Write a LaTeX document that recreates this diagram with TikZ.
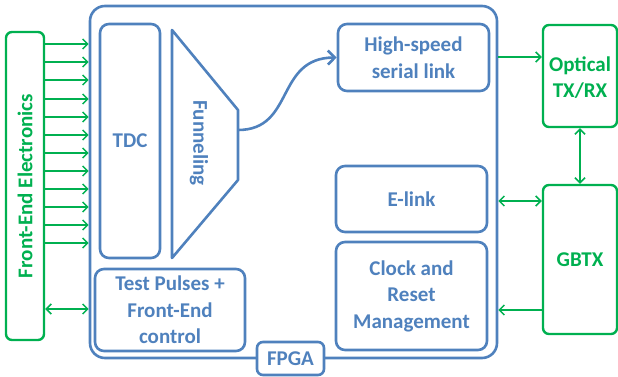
\documentclass[tikz,border=0pt]{standalone}
\usepackage{fontspec}
\setmainfont{Carlito}
\usetikzlibrary{arrows.meta}
\definecolor{bl}{HTML}{4F81BD}
\definecolor{gr}{HTML}{00B050}
\begin{document}
\begin{tikzpicture}[x=1pt,y=-1pt,
  bbox/.style={draw=bl,line width=2.6pt,rounded corners=9pt,text=bl,font=\fontsize{21}{26.5}\selectfont\bfseries,align=center,inner sep=0pt},
  gbox/.style={draw=gr,line width=2.4pt,rounded corners=6pt,text=gr,font=\fontsize{21}{26}\selectfont\bfseries,align=center,inner sep=0pt},
  garr/.style={draw=gr,line width=1.5pt,-{Straight Barb[length=5pt,width=10pt]}},
  gdarr/.style={draw=gr,line width=1.5pt,{Straight Barb[length=5pt,width=10pt]}-{Straight Barb[length=5pt,width=10pt]}}]
\useasboundingbox (0,0) rectangle (618,377);
% FPGA outer
\node[bbox,rounded corners=15pt,minimum width=407pt,minimum height=352pt] (fpga) at (293.5,182) {};
% Front-end electronics
\node[gbox,minimum width=38pt,minimum height=308pt] (fe) at (25,186) {};
\node[text=gr,font=\fontsize{21}{26}\selectfont\bfseries,rotate=90] (fetxt) at (fe.center) {Front-End Electronics};
% TDC
\node[bbox,minimum width=60pt,minimum height=234pt] (tdc) at (130,141) {TDC};
% Funnel
\draw[draw=bl,line width=2.6pt,line join=round] (172,30) -- (238,110) -- (238,180) -- (172,258) -- cycle;
\coordinate (funout) at (238,130);
\node[text=bl,font=\fontsize{21}{26}\selectfont\bfseries,rotate=-90] (funtxt) at (199,143) {Funneling};
% Test pulses
\node[bbox,minimum width=150pt,minimum height=82pt] (tp) at (170,310) {Test Pulses +\\Front-End\\control};
% High-speed
\node[bbox,minimum width=151pt,minimum height=67pt] (hs) at (413.5,57.5) {High-speed\\serial link};
% E-link
\node[bbox,minimum width=151pt,minimum height=66pt] (el) at (411.5,199) {E-link};
% Clock
\node[bbox,minimum width=151pt,minimum height=108pt] (ck) at (411.5,296) {Clock and\\Reset\\Management};
% FPGA label
\node[bbox,rounded corners=6pt,fill=white,minimum width=67pt,minimum height=33pt] (fl) at (290.5,358.5) {FPGA};
% Optical
\node[gbox,minimum width=74pt,minimum height=102pt] (opt) at (580,76) {};
\node[text=gr,font=\fontsize{21}{26}\selectfont\bfseries,align=center,inner sep=0pt] (opttxt) at (580,78) {Optical\\TX/RX};
% GBTX
\node[gbox,minimum width=74pt,minimum height=149pt] (gbtx) at (580,259.5) {GBTX};
% FE arrows
\foreach \y in {44,62,80,99,117,135,153,171,189,207,225,243}{
  \draw[garr] (fe.east |- 0,\y) -- (fpga.west |- 0,\y);
}
\draw[gdarr] (fe.east |- 0,309) -- (fpga.west |- 0,309);
% curve
\draw[draw=bl,line width=2.6pt,-{Straight Barb[length=7pt,width=14pt]}] (funout) .. controls (295,130) and (275,58) .. (hs.west);
% right side
\draw[garr] (fpga.east |- 0,57) -- (opt.west |- 0,57);
\draw[gdarr] (opt.south) -- (gbtx.north);
\draw[gdarr] (fpga.east |- 0,201) -- (gbtx.west |- 0,201);
\draw[garr] (gbtx.west |- 0,310) -- (fpga.east |- 0,310);
\end{tikzpicture}
\end{document}
